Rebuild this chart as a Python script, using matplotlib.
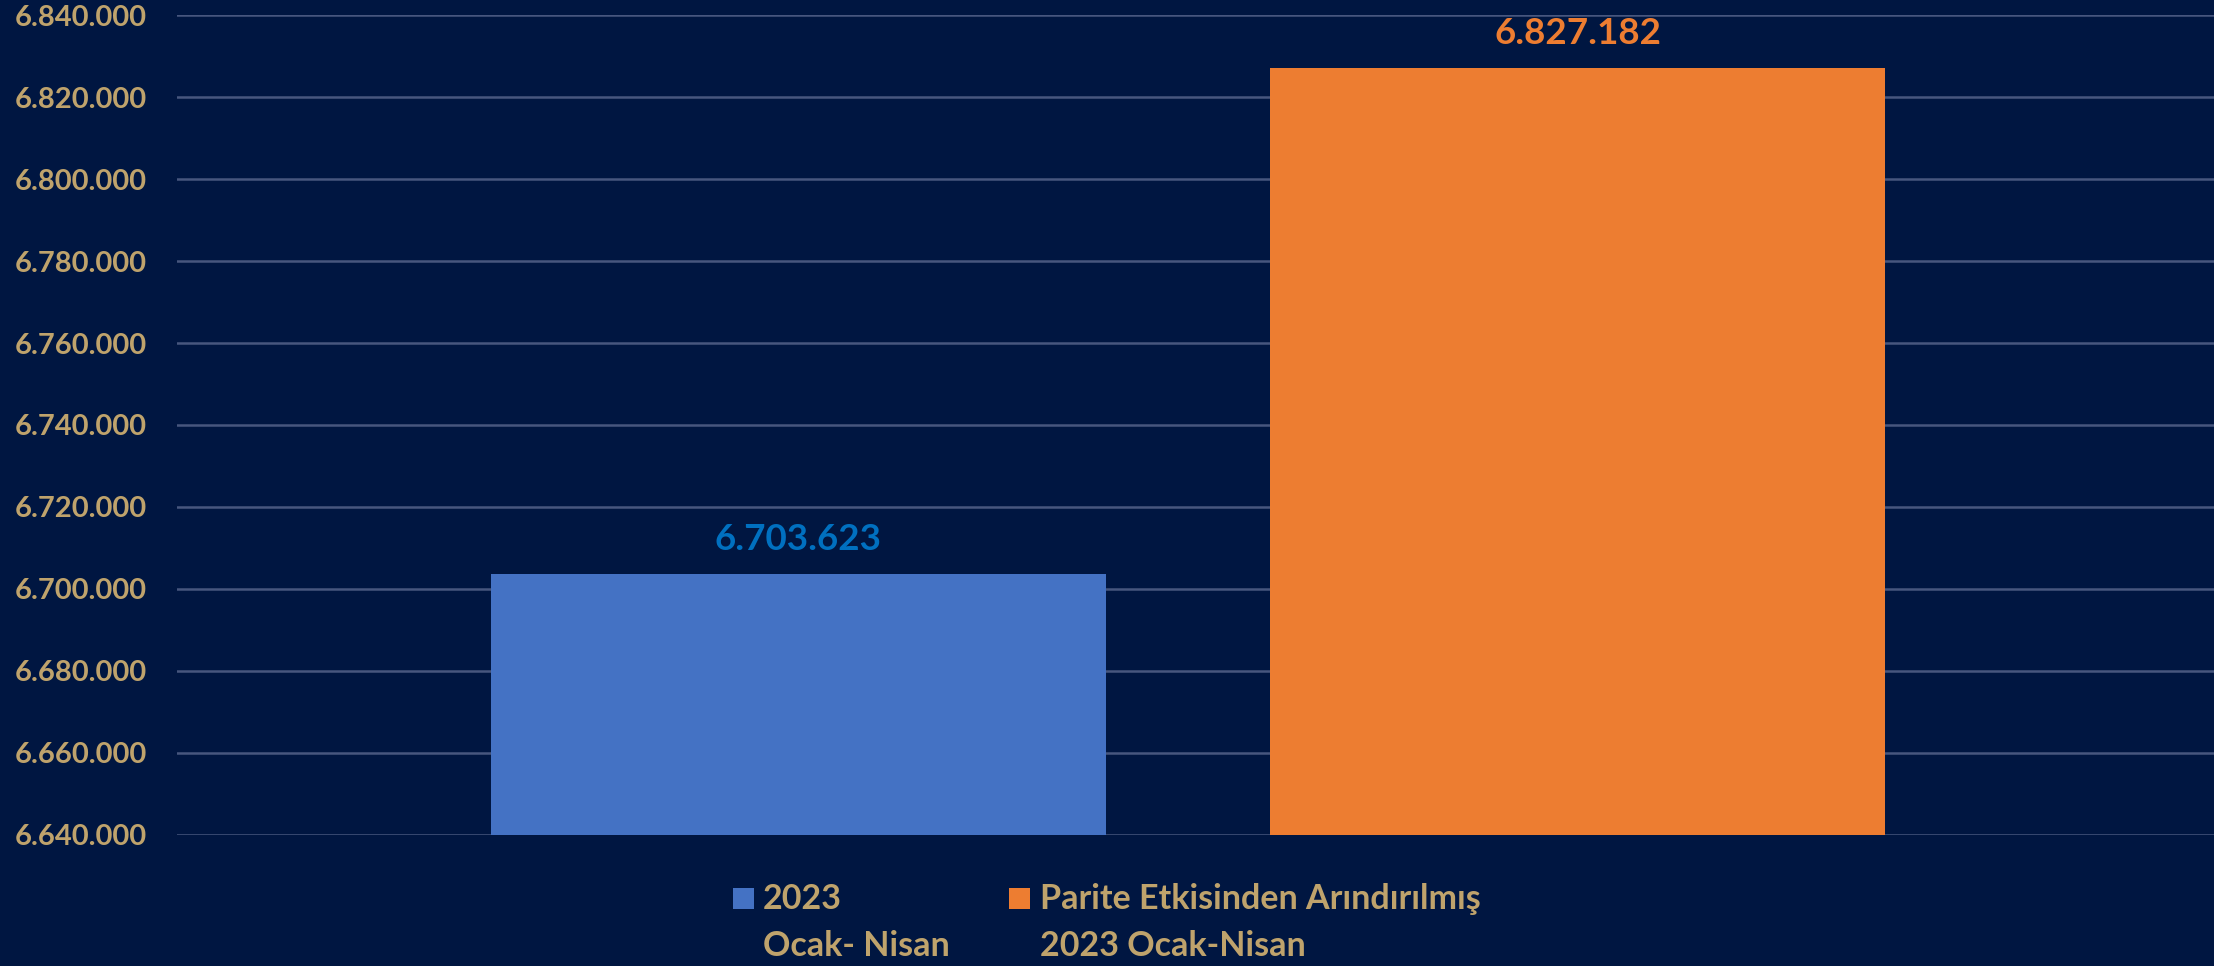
import matplotlib
matplotlib.use("Agg")
import matplotlib.pyplot as plt
from matplotlib.patches import Rectangle
from matplotlib.ticker import FuncFormatter

# Veriler
categories = ["2023\nOcak- Nisan", "Parite Etkisinden Arındırılmış\n2023 Ocak-Nisan"]
values = [6703623, 6827182]
bar_colors = ["#4472C4", "#ED7D31"]
label_colors = ["#0070C0", "#ED7D31"]

bg = "#001641"
text_color = "#BFA36C"
grid_color = "#47567E"

plt.rcParams['font.family'] = ['Lato', 'DejaVu Sans']

W, H = 2214, 966
fig = plt.figure(figsize=(W / 100, H / 100), dpi=100, facecolor=bg)
ax = fig.add_axes([0.08, 0.1361, 0.92, 0.848])
ax.set_facecolor(bg)

x = list(range(len(values)))
bars = ax.bar(x, values, width=0.789, color=bar_colors, zorder=2)

ax.set_ylim(6640000, 6840000)
ax.set_yticks(range(6640000, 6840001, 20000))
ax.set_xlim(-0.797, 1.816)

# Türkçe binlik ayırıcı
ax.yaxis.set_major_formatter(FuncFormatter(lambda v, p: f"{int(v):,}".replace(",", ".")))
ax.tick_params(axis='y', length=0, pad=22, labelsize=21, labelcolor=text_color)
for t in ax.get_yticklabels():
    t.set_fontweight('bold')
ax.set_xticks([])

ax.grid(axis='y', color=grid_color, linewidth=1.8, zorder=0)
for s in ax.spines.values():
    s.set_visible(False)

# Değer etiketleri
for b, v, c in zip(bars, values, label_colors):
    ax.annotate(f"{v:,}".replace(",", "."), (b.get_x() + b.get_width() / 2, v),
                xytext=(0, 17), textcoords='offset points', ha='center', va='baseline',
                fontsize=26.5, fontweight='bold', color=c)

# Lejant (kare ilk satırla hizalı)
leg_sq_x = [733, 1009]
leg_txt_x = [763, 1040]
sq = 21
base1, base2 = 909, 956
for cat, col, sx, tx in zip(categories, bar_colors, leg_sq_x, leg_txt_x):
    fig.patches.append(Rectangle((sx / W, 1 - base1 / H), sq / W, sq / H,
                                 transform=fig.transFigure, facecolor=col, edgecolor='none'))
    for line, by in zip(cat.split("\n"), [base1, base2]):
        fig.text(tx / W, 1 - by / H, line, ha='left', va='baseline',
                 fontsize=24.5, fontweight='bold', color=text_color)

fig.savefig("out.png", dpi=100, facecolor=bg)
